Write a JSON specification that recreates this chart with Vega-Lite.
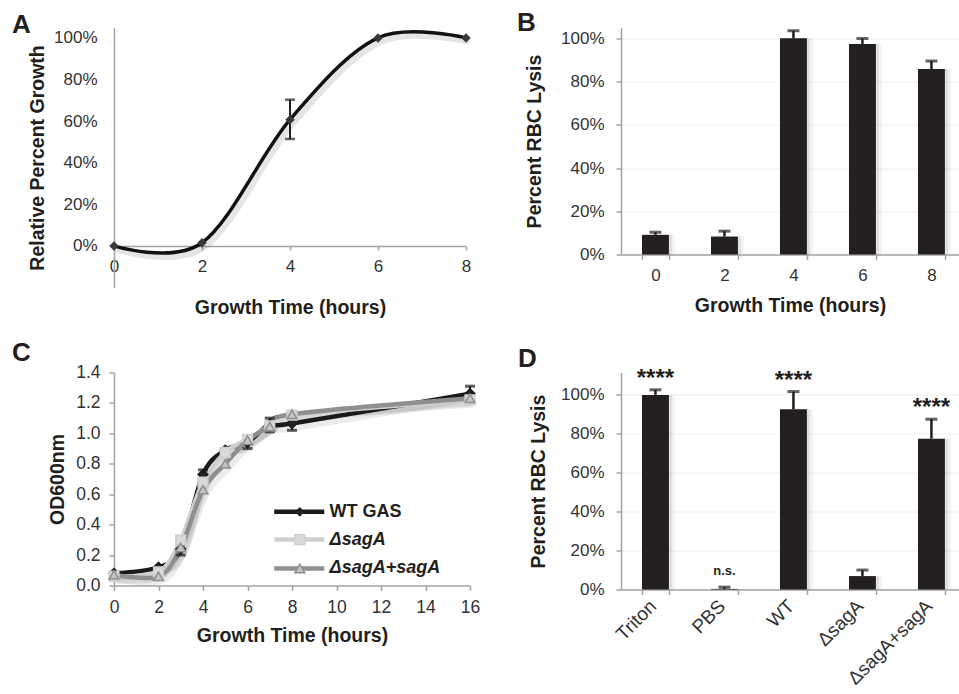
{
  "$schema": "https://vega.github.io/schema/vega-lite/v6.json",
  "background": "white",
  "padding": {"left": 12, "top": 9.5, "right": 0, "bottom": 0},
  "config": {
    "font": "Liberation Sans",
    "view": {"stroke": null},
    "axis": {
      "domainColor": "#a3a3a3", "domainWidth": 1.5,
      "tickColor": "#a3a3a3", "tickWidth": 1.5, "tickSize": 5,
      "labelColor": "#333333", "labelFont": "Liberation Sans", "labelFontSize": 17,
      "titleColor": "#231f20", "titleFont": "Liberation Sans", "titleFontSize": 19.5, "titleFontWeight": "bold",
      "grid": false, "labelFlush": false, "labelOverlap": false
    },
    "title": {"font": "Liberation Sans", "fontSize": 26, "fontWeight": "bold", "color": "#231f20", "anchor": "start", "frame": "group", "baseline": "alphabetic", "offset": 0}
  },
  "datasets": {
    "growth": [
      {"hour": 0, "pct": 0.0},
      {"hour": 2, "pct": 0.015},
      {"hour": 4, "pct": 0.607},
      {"hour": 6, "pct": 1.0},
      {"hour": 8, "pct": 1.0}
    ],
    "growthErr": [
      {"hour": 4, "lo": 0.514, "hi": 0.703}
    ],
    "lysisTime": [
      {"hour": 0, "pct": 0.091, "hi": 0.103},
      {"hour": 2, "pct": 0.083, "hi": 0.108},
      {"hour": 4, "pct": 1.0, "hi": 1.035},
      {"hour": 6, "pct": 0.974, "hi": 0.999},
      {"hour": 8, "pct": 0.858, "hi": 0.895}
    ],
    "od": [
      {"series": "WT GAS", "hour": 0, "od": 0.08},
      {"series": "WT GAS", "hour": 2, "od": 0.12},
      {"series": "WT GAS", "hour": 3, "od": 0.24},
      {"series": "WT GAS", "hour": 4, "od": 0.73},
      {"series": "WT GAS", "hour": 5, "od": 0.89},
      {"series": "WT GAS", "hour": 6, "od": 0.94},
      {"series": "WT GAS", "hour": 7, "od": 1.06},
      {"series": "WT GAS", "hour": 8, "od": 1.065},
      {"series": "WT GAS", "hour": 16, "od": 1.26},
      {"series": "ΔsagA", "hour": 0, "od": 0.06},
      {"series": "ΔsagA", "hour": 2, "od": 0.09},
      {"series": "ΔsagA", "hour": 3, "od": 0.30},
      {"series": "ΔsagA", "hour": 4, "od": 0.68},
      {"series": "ΔsagA", "hour": 5, "od": 0.875},
      {"series": "ΔsagA", "hour": 6, "od": 0.96},
      {"series": "ΔsagA", "hour": 7, "od": 1.05},
      {"series": "ΔsagA", "hour": 8, "od": 1.12},
      {"series": "ΔsagA", "hour": 16, "od": 1.22},
      {"series": "ΔsagA+sagA", "hour": 0, "od": 0.07},
      {"series": "ΔsagA+sagA", "hour": 2, "od": 0.06},
      {"series": "ΔsagA+sagA", "hour": 3, "od": 0.25},
      {"series": "ΔsagA+sagA", "hour": 4, "od": 0.63},
      {"series": "ΔsagA+sagA", "hour": 5, "od": 0.80},
      {"series": "ΔsagA+sagA", "hour": 6, "od": 0.955},
      {"series": "ΔsagA+sagA", "hour": 7, "od": 1.045},
      {"series": "ΔsagA+sagA", "hour": 8, "od": 1.125},
      {"series": "ΔsagA+sagA", "hour": 16, "od": 1.23}
    ],
    "odErr": [
      {"hour": 3, "lo": 0.20, "hi": 0.28},
      {"hour": 4, "lo": 0.70, "hi": 0.76},
      {"hour": 6, "lo": 0.90, "hi": 0.97},
      {"hour": 7, "lo": 1.01, "hi": 1.10},
      {"hour": 8, "lo": 1.02, "hi": 1.09},
      {"hour": 16, "lo": 1.21, "hi": 1.31}
    ],
    "legendRow": [
      {"key": "legend"}
    ],
    "lysis": [
      {"group": "Triton", "pct": 1.0, "hi": 1.026, "sig": "****"},
      {"group": "PBS", "pct": 0.003, "hi": 0.012, "sig": "n.s."},
      {"group": "WT", "pct": 0.926, "hi": 1.017, "sig": "****"},
      {"group": "ΔsagA", "pct": 0.069, "hi": 0.10, "sig": ""},
      {"group": "ΔsagA+sagA", "pct": 0.775, "hi": 0.875, "sig": "****"}
    ]
  },
  "bounds": "flush",
  "spacing": {"row": 85, "column": 151},
  "columns": 2,
  "concat": [
    {
      "width": 352, "height": 260,
      "title": {"text": "A", "dx": -102, "dy": 18.5},
      "layer": [
        {
          "data": {"name": "growth"},
          "mark": {"type": "line", "interpolate": "cardinal", "color": "#000000", "opacity": 0.1, "strokeWidth": 6, "xOffset": 3, "yOffset": 4},
          "encoding": {"x": {"field": "hour", "type": "quantitative"}, "y": {"field": "pct", "type": "quantitative"}}
        },
        {
          "data": {"name": "growth"},
          "mark": {"type": "line", "interpolate": "cardinal", "color": "#111111", "strokeWidth": 3.5},
          "encoding": {
            "x": {"field": "hour", "type": "quantitative", "scale": {"domain": [0, 8], "nice": false},
                  "axis": {"title": "Growth Time (hours)", "values": [0, 2, 4, 6, 8], "offset": -41.6, "tickSize": 4, "labelPadding": 9, "titlePadding": 24, "labelOverlap": false}},
            "y": {"field": "pct", "type": "quantitative", "scale": {"domain": [-0.2, 1.05], "nice": false, "zero": false},
                  "axis": {"title": "Relative Percent Growth", "values": [0, 0.2, 0.4, 0.6, 0.8, 1], "format": ".0%", "tickColor": "transparent", "labelPadding": 12, "titlePadding": 6, "labelOverlap": false}}
          }
        },
        {
          "data": {"name": "growthErr"},
          "mark": {"type": "rule", "color": "#231f20", "strokeWidth": 2},
          "encoding": {"x": {"field": "hour", "type": "quantitative"}, "y": {"field": "lo", "type": "quantitative"}, "y2": {"field": "hi"}}
        },
        {
          "data": {"name": "growthErr"},
          "mark": {"type": "tick", "orient": "horizontal", "color": "#231f20", "thickness": 2.5, "size": 10},
          "encoding": {"x": {"field": "hour", "type": "quantitative"}, "y": {"field": "lo", "type": "quantitative"}}
        },
        {
          "data": {"name": "growthErr"},
          "mark": {"type": "tick", "orient": "horizontal", "color": "#231f20", "thickness": 2.5, "size": 10},
          "encoding": {"x": {"field": "hour", "type": "quantitative"}, "y": {"field": "hi", "type": "quantitative"}}
        },
        {
          "data": {"name": "growth"},
          "mark": {"type": "point", "shape": "diamond", "filled": true, "color": "#3a3a3a", "size": 90, "opacity": 1},
          "encoding": {"x": {"field": "hour", "type": "quantitative"}, "y": {"field": "pct", "type": "quantitative"}}
        }
      ]
    },
    {
      "width": 338, "height": 227,
      "title": {"text": "B", "dx": -104, "dy": 12},
      "data": {"name": "lysisTime"},
      "encoding": {
        "x": {"field": "hour", "type": "ordinal", "scale": {"paddingInner": 0.61, "paddingOuter": 0.2545, "align": 0.598},
              "axis": {"title": "Growth Time (hours)", "labelAngle": 0, "tickBand": "extent", "tickSize": 5, "labelPadding": 8, "titlePadding": 13}}
      },
      "layer": [
        {"mark": {"type": "bar", "color": "#000000", "opacity": 0.08, "xOffset": 3}, "encoding": {"y": {"field": "pct", "type": "quantitative"}}},
        {"mark": {"type": "bar", "color": "#000000", "opacity": 0.05, "xOffset": 6}, "encoding": {"y": {"field": "pct", "type": "quantitative"}}},
        {"mark": {"type": "rule", "color": "#231f20", "strokeWidth": 2.5}, "encoding": {"y": {"field": "pct", "type": "quantitative"}, "y2": {"field": "hi"}}},
        {"mark": {"type": "tick", "orient": "horizontal", "color": "#231f20", "thickness": 3, "size": 12}, "encoding": {"y": {"field": "hi", "type": "quantitative"}}},
        {
          "mark": {"type": "bar", "color": "#231f20"},
          "encoding": {
            "y": {"field": "pct", "type": "quantitative", "scale": {"domain": [0, 1.05], "nice": false},
                  "axis": {"title": "Percent RBC Lysis", "values": [0, 0.2, 0.4, 0.6, 0.8, 1], "format": ".0%", "grid": true, "gridColor": "#eeeeee", "labelPadding": 12, "titlePadding": 16, "labelOverlap": false}}
          }
        }
      ]
    },
    {
      "width": 356, "height": 213,
      "title": {"text": "C", "dx": -102, "dy": 6.5},
      "layer": [
        {
          "data": {"name": "od"},
          "mark": {"type": "line", "interpolate": "cardinal", "color": "#000000", "opacity": 0.08, "strokeWidth": 7, "xOffset": 3, "yOffset": 4},
          "encoding": {"x": {"field": "hour", "type": "quantitative"}, "y": {"field": "od", "type": "quantitative"}, "detail": {"field": "series"}}
        },
        {
          "data": {"name": "od"},
          "mark": {"type": "line", "interpolate": "cardinal", "strokeWidth": 4.5},
          "encoding": {
            "x": {"field": "hour", "type": "quantitative", "scale": {"domain": [0, 16], "nice": false},
                  "axis": {"title": "Growth Time (hours)", "values": [0, 1, 2, 3, 4, 5, 6, 7, 8, 9, 10, 11, 12, 13, 14, 15, 16], "labelExpr": "datum.value % 2 ? '' : datum.label", "labelFontSize": 17.5, "labelPadding": 8, "titlePadding": 10, "labelOverlap": false}},
            "y": {"field": "od", "type": "quantitative", "scale": {"domain": [0, 1.4], "nice": false},
                  "axis": {"title": "OD600nm", "values": [0, 0.2, 0.4, 0.6, 0.8, 1.0, 1.2, 1.4], "tickCount": 8, "format": ".1f", "labelFontSize": 17.5, "labelPadding": 9, "titlePadding": 8, "labelOverlap": false}},
            "stroke": {"field": "series", "type": "nominal", "scale": {"domain": ["WT GAS", "ΔsagA", "ΔsagA+sagA"], "range": ["#1a1a1a", "#cfcfcf", "#8f8f8f"]}, "legend": null}
          }
        },
        {
          "data": {"name": "odErr"},
          "mark": {"type": "rule", "color": "#1a1a1a", "strokeWidth": 2},
          "encoding": {"x": {"field": "hour", "type": "quantitative"}, "y": {"field": "lo", "type": "quantitative"}, "y2": {"field": "hi"}}
        },
        {
          "data": {"name": "odErr"},
          "mark": {"type": "tick", "orient": "horizontal", "color": "#1a1a1a", "thickness": 3, "size": 10},
          "encoding": {"x": {"field": "hour", "type": "quantitative"}, "y": {"field": "hi", "type": "quantitative"}}
        },
        {
          "data": {"name": "odErr"},
          "mark": {"type": "tick", "orient": "horizontal", "color": "#1a1a1a", "thickness": 3, "size": 10},
          "encoding": {"x": {"field": "hour", "type": "quantitative"}, "y": {"field": "lo", "type": "quantitative"}}
        },
        {
          "data": {"name": "od"},
          "mark": {"type": "point", "filled": true, "size": 95, "opacity": 1, "strokeWidth": 1.5},
          "encoding": {
            "x": {"field": "hour", "type": "quantitative"},
            "y": {"field": "od", "type": "quantitative"},
            "shape": {"field": "series", "type": "nominal", "scale": {"domain": ["WT GAS", "ΔsagA", "ΔsagA+sagA"], "range": ["diamond", "square", "triangle-up"]}, "legend": null},
            "fill": {"field": "series", "type": "nominal", "scale": {"domain": ["WT GAS", "ΔsagA", "ΔsagA+sagA"], "range": ["#222222", "#d9d9d9", "#c4c4c4"]}, "legend": null},
            "stroke": {"field": "series", "type": "nominal", "legend": null}
          }
        },
        {
          "data": {"name": "legendRow"},
          "layer": [
            {"mark": {"type": "rule", "color": "#1a1a1a", "strokeWidth": 4.5}, "encoding": {"x": {"datum": 7.2}, "x2": {"datum": 9.45}, "y": {"datum": 0.484}}},
            {"mark": {"type": "rule", "color": "#cfcfcf", "strokeWidth": 4.5}, "encoding": {"x": {"datum": 7.2}, "x2": {"datum": 9.45}, "y": {"datum": 0.302}}},
            {"mark": {"type": "rule", "color": "#8f8f8f", "strokeWidth": 4.5}, "encoding": {"x": {"datum": 7.2}, "x2": {"datum": 9.45}, "y": {"datum": 0.112}}},
            {"mark": {"type": "point", "shape": "diamond", "filled": true, "color": "#222222", "size": 95, "opacity": 1}, "encoding": {"x": {"datum": 8.35}, "y": {"datum": 0.484}}},
            {"mark": {"type": "point", "shape": "square", "filled": true, "fill": "#d9d9d9", "stroke": "#cfcfcf", "strokeWidth": 1.5, "size": 95, "opacity": 1}, "encoding": {"x": {"datum": 8.35}, "y": {"datum": 0.302}}},
            {"mark": {"type": "point", "shape": "triangle-up", "filled": true, "fill": "#c4c4c4", "stroke": "#8f8f8f", "strokeWidth": 1.5, "size": 95, "opacity": 1}, "encoding": {"x": {"datum": 8.35}, "y": {"datum": 0.112}}},
            {"mark": {"type": "text", "text": "WT GAS", "align": "left", "baseline": "middle", "fontSize": 18, "fontWeight": "bold", "color": "#231f20"}, "encoding": {"x": {"datum": 9.69}, "y": {"datum": 0.484}}},
            {"mark": {"type": "text", "text": "ΔsagA", "align": "left", "baseline": "middle", "fontSize": 18, "fontWeight": "bold", "fontStyle": "italic", "color": "#231f20"}, "encoding": {"x": {"datum": 9.69}, "y": {"datum": 0.302}}},
            {"mark": {"type": "text", "text": "ΔsagA+sagA", "align": "left", "baseline": "middle", "fontSize": 18, "fontWeight": "bold", "fontStyle": "italic", "color": "#231f20"}, "encoding": {"x": {"datum": 9.69}, "y": {"datum": 0.112}}}
          ]
        }
      ]
    },
    {
      "width": 338, "height": 217,
      "title": {"text": "D", "dx": -103, "dy": 9},
      "data": {"name": "lysis"},
      "encoding": {
        "x": {"field": "group", "type": "nominal", "sort": null, "scale": {"paddingInner": 0.61, "paddingOuter": 0.2545, "align": 0.598},
              "axis": {"title": null, "labelAngle": -45, "labelFontSize": 19, "tickBand": "extent", "tickSize": 5, "labelPadding": 2, "labelOffset": -9, "labelOverlap": false}}
      },
      "layer": [
        {"mark": {"type": "bar", "color": "#000000", "opacity": 0.08, "xOffset": 3}, "encoding": {"y": {"field": "pct", "type": "quantitative"}}},
        {"mark": {"type": "bar", "color": "#000000", "opacity": 0.05, "xOffset": 6}, "encoding": {"y": {"field": "pct", "type": "quantitative"}}},
        {"mark": {"type": "rule", "color": "#231f20", "strokeWidth": 2.5}, "encoding": {"y": {"field": "pct", "type": "quantitative"}, "y2": {"field": "hi"}}},
        {"mark": {"type": "tick", "orient": "horizontal", "color": "#231f20", "thickness": 3, "size": 12}, "encoding": {"y": {"field": "hi", "type": "quantitative"}}},
        {
          "mark": {"type": "bar", "color": "#231f20"},
          "encoding": {
            "y": {"field": "pct", "type": "quantitative", "scale": {"domain": [0, 1.115], "nice": false},
                  "axis": {"title": "Percent RBC Lysis", "values": [0, 0.2, 0.4, 0.6, 0.8, 1], "format": ".0%", "grid": true, "gridColor": "#eeeeee", "labelPadding": 12, "titlePadding": 12, "labelOverlap": false}}
          }
        },
        {
          "transform": [{"filter": "datum.sig == '****'"}],
          "mark": {"type": "text", "fontSize": 24, "fontWeight": "bold", "color": "#231f20", "baseline": "alphabetic", "dy": -4},
          "encoding": {"y": {"field": "hi", "type": "quantitative"}, "text": {"field": "sig"}}
        },
        {
          "transform": [{"filter": "datum.sig == 'n.s.'"}],
          "mark": {"type": "text", "fontSize": 13, "fontWeight": "bold", "color": "#231f20", "baseline": "alphabetic", "dy": -12},
          "encoding": {"y": {"field": "hi", "type": "quantitative"}, "text": {"field": "sig"}}
        }
      ]
    }
  ]
}
